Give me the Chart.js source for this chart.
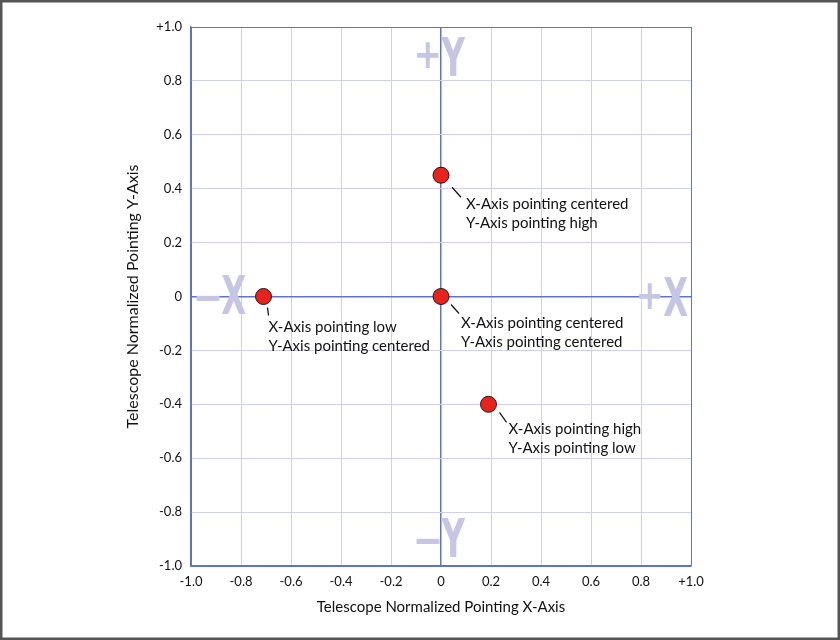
<!DOCTYPE html>
<html>
<head>
<meta charset="utf-8">
<script src="https://cdn.jsdelivr.net/npm/chart.js@4"></script>
<style>
  html, body { margin: 0; padding: 0; background: #fff; }
  #wrap { width: 840px; height: 640px; }
</style>
</head>
<body>
<div id="wrap"><canvas id="pointing"></canvas></div>
<script>
// pointing samples (normalized telescope pointing)
const pointX = [0, 0, -0.71, 0.19];
const pointY = [0.45, 0, 0, -0.4];
const pointNotes = [
  ["X-Axis pointing centered", "Y-Axis pointing high"],
  ["X-Axis pointing centered", "Y-Axis pointing centered"],
  ["X-Axis pointing low", "Y-Axis pointing centered"],
  ["X-Axis pointing high", "Y-Axis pointing low"],
];
const xTickLabels = ["-1.0", "-0.8", "-0.6", "-0.4", "-0.2", "0", "0.2", "0.4", "0.6", "0.8", "+1.0"];
const yTickLabels = ["-1.0", "-0.8", "-0.6", "-0.4", "-0.2", "0", "0.2", "0.4", "0.6", "0.8", "+1.0"];
const tickValues = [-1, -0.8, -0.6, -0.4, -0.2, 0, 0.2, 0.4, 0.6, 0.8, 1];
// big direction markers: sign, letter, centre x, centre y (data units)
const axisMarks = [
  ["+", "Y", 0, 0.892],
  ["\u2014", "Y", 0, -0.896],
  ["\u2014", "X", -0.88, 0.005],
  ["+", "X", 0.888, 0],
];

const BLUE = "#6173c6";
const LAVENDER = "#cfcff0";
const MARK = "#c6c6e4";

// where each note sits relative to its dot (px)
const noteLayout = [
  { l: [11, 12, 20, 22], tx: 25, ty: 29 },
  { l: [10, 8, 18, 17], tx: 20, ty: 27 },
  { l: [4, 11, 5, 19], tx: 5, ty: 31 },
  { l: [11, 8, 18, 18], tx: 20, ty: 25 },
];

const labelFor = (labels) => (v) => {
  const i = tickValues.findIndex((t) => Math.abs(t - v) < 1e-6);
  return i >= 0 ? labels[i] : "";
};

const gridColor = (c) => {
  const v = c.tick ? c.tick.value : null;
  return v !== null && (Math.abs(v) < 1e-6 || Math.abs(Math.abs(v) - 1) < 1e-6) ? BLUE : LAVENDER;
};
const gridWidth = (c) => {
  const v = c.tick ? c.tick.value : null;
  return v !== null && Math.abs(v) < 1e-6 ? 1.5 : 1;
};

// draw a glyph with its ink box centred on (cx, cy), squeezed horizontally
function glyph(ctx, txt, font, sx, cx, cy) {
  ctx.save();
  ctx.font = font;
  ctx.textAlign = "left";
  ctx.textBaseline = "alphabetic";
  const m = ctx.measureText(txt);
  const w = (m.actualBoundingBoxRight + m.actualBoundingBoxLeft) * sx;
  const h = m.actualBoundingBoxAscent + m.actualBoundingBoxDescent;
  ctx.translate(cx - w / 2, cy - h / 2 + m.actualBoundingBoxAscent);
  ctx.scale(sx, 1);
  ctx.fillText(txt, m.actualBoundingBoxLeft, 0);
  ctx.restore();
  return w;
}

const decor = {
  id: "decor",
  beforeDatasetsDraw(chart) {
    const { ctx, scales } = chart;
    ctx.save();
    ctx.fillStyle = MARK;
    axisMarks.forEach(([sign, letter, x, y]) => {
      const px = scales.x.getPixelForValue(x);
      const py = scales.y.getPixelForValue(y);
      if (sign === "+") {
        glyph(ctx, sign, "bold 40px 'DejaVu Sans'", 0.85, px - 13, py - 1);
      } else {
        glyph(ctx, sign, "bold 40px 'DejaVu Sans'", 0.64, px - 13, py + 3);
      }
      glyph(ctx, letter, "bold 53px 'DejaVu Sans Condensed', 'DejaVu Sans'", 0.68, px + 12.5, py);
    });
    ctx.restore();
  },
  afterDatasetsDraw(chart) {
    const { ctx, scales } = chart;
    ctx.save();
    ctx.strokeStyle = "#111";
    ctx.lineWidth = 1.2;
    ctx.fillStyle = "#111";
    ctx.font = "15px Lato";
    ctx.textAlign = "left";
    ctx.textBaseline = "middle";
    pointX.forEach((x, i) => {
      const px = scales.x.getPixelForValue(x);
      const py = scales.y.getPixelForValue(pointY[i]);
      const n = noteLayout[i];
      ctx.beginPath();
      ctx.moveTo(px + n.l[0], py + n.l[1]);
      ctx.lineTo(px + n.l[2], py + n.l[3]);
      ctx.stroke();
      pointNotes[i].forEach((line, k) => {
        ctx.fillText(line, px + n.tx, py + n.ty + k * 19);
      });
    });
    ctx.restore();
  },
  afterDraw(chart) {
    const { ctx } = chart;
    ctx.save();
    ctx.strokeStyle = "#555";
    ctx.lineWidth = 3;
    ctx.strokeRect(1, 1, chart.width - 2, chart.height - 2);
    ctx.restore();
  },
};

new Chart(document.getElementById("pointing"), {
  type: "scatter",
  data: {
    datasets: [
      {
        label: "Pointing",
        data: pointX.map((x, i) => ({ x: x, y: pointY[i] })),
        backgroundColor: "#e8231d",
        borderColor: "#1a1a1a",
        borderWidth: 1,
        pointRadius: 8,
        pointHoverRadius: 8,
      },
    ],
  },
  options: {
    responsive: true,
    maintainAspectRatio: false,
    animation: false,
    events: [],
    layout: { padding: { left: 0, top: 27, right: 149, bottom: 0 } },
    plugins: { legend: { display: false }, tooltip: { enabled: false } },
    scales: {
      x: {
        type: "linear",
        min: -1,
        max: 1,
        afterBuildTicks: (s) => { s.ticks = tickValues.map((v) => ({ value: v })); },
        afterFit: (s) => { s.height = 74; },
        grid: { color: gridColor, lineWidth: gridWidth, drawTicks: false },
        border: { color: BLUE, width: 1.5 },
        ticks: {
          callback: labelFor(xTickLabels),
          padding: 8,
          color: "#111",
          font: { family: "Lato", size: 13 },
          maxRotation: 0,
        },
        title: {
          display: true,
          text: "Telescope Normalized Pointing X-Axis",
          color: "#111",
          font: { family: "Lato", size: 15 },
          padding: { top: 0, bottom: 24 },
        },
      },
      y: {
        type: "linear",
        min: -1,
        max: 1,
        afterBuildTicks: (s) => { s.ticks = tickValues.map((v) => ({ value: v })); },
        afterFit: (s) => { s.width = 191; },
        grid: { color: gridColor, lineWidth: gridWidth, drawTicks: false },
        border: { color: BLUE, width: 1.5 },
        ticks: {
          callback: labelFor(yTickLabels),
          padding: 9,
          color: "#111",
          font: { family: "Lato", size: 13 },
        },
        title: {
          display: true,
          text: "Telescope Normalized Pointing Y-Axis",
          color: "#111",
          font: { family: "Lato", size: 16 },
          padding: { top: 123, bottom: 0 },
        },
      },
    },
  },
  plugins: [decor],
});
</script>
</body>
</html>
